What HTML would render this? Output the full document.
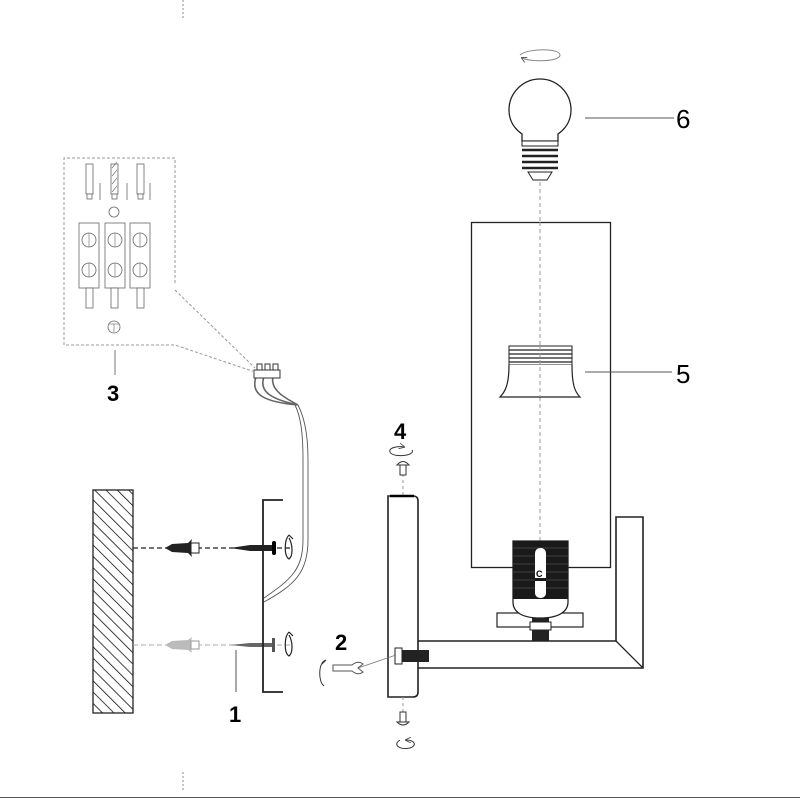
<!DOCTYPE html>
<html><head><meta charset="utf-8"><style>
html,body{margin:0;padding:0;background:#fff;}
svg{display:block;}
text{font-family:"Liberation Sans",sans-serif;}
</style></head><body>
<svg width="800" height="800" viewBox="0 0 800 800" xmlns="http://www.w3.org/2000/svg">
<defs>
<pattern id="hatch" width="8" height="8" patternUnits="userSpaceOnUse" patternTransform="rotate(-45)">
<line x1="0" y1="0" x2="0" y2="8" stroke="#000" stroke-width="1.5"/>
</pattern>
<marker id="ah" markerWidth="6" markerHeight="6" refX="5" refY="3" orient="auto"><path d="M0,0 L6,3 L0,6" fill="none" stroke="#444" stroke-width="0.8"/></marker>
</defs>
<line x1="183" y1="0" x2="183" y2="20" stroke="#888" stroke-dasharray="2,2"/>
<line x1="183" y1="772" x2="183" y2="792" stroke="#888" stroke-dasharray="2,2"/>
<line x1="0" y1="797.5" x2="800" y2="797.5" stroke="#555" stroke-width="1"/>

<!-- bulb -->
<path d="M520,55 C528,48 560,48 560,55 C560,62 530,62 522,58" fill="none" stroke="#888" stroke-width="1" marker-end="url(#ah)"/>
<path d="M522,141 L522,134 C512,127 509,118 509,110 A31,31 0 0 1 571,110 C571,118 568,127 558,134 L558,141 Z" fill="#fff" stroke="#222" stroke-width="1.3"/>
<rect x="522" y="141" width="36" height="5" fill="#fff" stroke="#222"/>
<g stroke="#222" stroke-width="2.4"><line x1="522" y1="150" x2="558" y2="150"/><line x1="522" y1="156" x2="558" y2="156"/><line x1="522" y1="162" x2="558" y2="162"/><line x1="522" y1="168" x2="558" y2="168"/></g>
<path d="M528,172 L552,172 L547,180 L533,180 Z" fill="#fff" stroke="#222"/>
<line x1="585" y1="118" x2="674" y2="118" stroke="#555"/>
<text x="676" y="128" font-size="26">6</text>

<line x1="540" y1="182" x2="540" y2="545" stroke="#999" stroke-dasharray="4,3"/>

<!-- shade -->
<rect x="471.5" y="222.5" width="139" height="345" fill="#fff" stroke="#222" stroke-width="1.3"/>
<line x1="540" y1="222" x2="540" y2="545" stroke="#999" stroke-dasharray="4,3"/>
<rect x="509" y="346" width="63" height="19" fill="#fff" stroke="#222"/>
<g stroke="#222" stroke-width="1.2"><line x1="509" y1="350" x2="572" y2="350"/><line x1="509" y1="354" x2="572" y2="354"/><line x1="509" y1="358" x2="572" y2="358"/><line x1="509" y1="362" x2="572" y2="362"/></g>
<path d="M509,365 C509,385 505,392 500,397 L580,397 C575,392 572,385 572,365" fill="#fff" stroke="#222" stroke-width="1.2"/>
<line x1="540" y1="346" x2="540" y2="397" stroke="#999" stroke-dasharray="4,3"/>
<line x1="585" y1="372" x2="672" y2="372" stroke="#555"/>
<text x="676" y="383" font-size="26">5</text>

<!-- arm -->
<path d="M417,641 L616,641 L616,517 L643,517 L643,668 L417,668 Z" fill="#fff" stroke="#222" stroke-width="1.6"/>
<line x1="616" y1="641" x2="643" y2="668" stroke="#222" stroke-width="1.3"/>

<!-- socket -->
<rect x="497" y="613" width="86" height="14" fill="#fff" stroke="#222" stroke-width="1.2"/>
<rect x="532" y="617" width="17" height="24" fill="#222"/>
<rect x="530" y="622" width="21" height="8" fill="#fff" stroke="#222"/>
<path d="M513,541 L568,541 L568,602 C568,612 558,618 540,618 C522,618 513,612 513,602 Z" fill="#fff" stroke="#222" stroke-width="1.3"/>
<rect x="513" y="541" width="55" height="58" fill="#1a1a1a"/>
<g stroke="#666" stroke-width="0.6"><line x1="513" y1="548" x2="568" y2="548"/><line x1="513" y1="556" x2="568" y2="556"/><line x1="513" y1="564" x2="568" y2="564"/><line x1="513" y1="572" x2="568" y2="572"/><line x1="513" y1="580" x2="568" y2="580"/><line x1="513" y1="588" x2="568" y2="588"/></g>
<rect x="535" y="548" width="11" height="50" rx="5" fill="#fff"/>
<rect x="535" y="578" width="11" height="3" fill="#1a1a1a"/>
<text x="536" y="577" font-size="9" font-weight="bold">C</text>

<!-- back plate -->
<path d="M388,496 L413,496 Q418,496 418,501 L418,692 Q418,697 413,697 L388,697 Z" fill="#fff" stroke="#222" stroke-width="1.6"/>
<line x1="390" y1="496" x2="414" y2="496" stroke="#000" stroke-width="2.5"/>
<line x1="403" y1="474" x2="403" y2="496" stroke="#999" stroke-dasharray="3,3"/>
<line x1="403" y1="697" x2="403" y2="712" stroke="#999" stroke-dasharray="3,3"/>
<rect x="401" y="650" width="28" height="12" fill="#222"/>
<rect x="395" y="648" width="7" height="16" fill="#fff" stroke="#222"/>
<text x="394" y="439" font-size="22" font-weight="bold">4</text>
<path d="M412,450 C416,456 392,458 390,452 C388,447 400,446 404,447" fill="none" stroke="#333" marker-end="url(#ah)"/>
<path d="M397,465 Q403,458 409,465 Z" fill="#fff" stroke="#333"/>
<rect x="400" y="465" width="6" height="10" fill="#fff" stroke="#333"/>
<path d="M397,722 Q403,728 409,722 Z" fill="#fff" stroke="#333"/>
<rect x="400" y="712" width="6" height="10" fill="#fff" stroke="#333"/>
<path d="M400,740 C392,745 400,750 410,748 C418,745 414,740 406,740" fill="none" stroke="#333" marker-end="url(#ah)"/>
<text x="335" y="650" font-size="22" font-weight="bold">2</text>
<line x1="358" y1="668" x2="396" y2="655" stroke="#777" stroke-width="0.8"/>
<path d="M333,665 L352,665 Q358,660 363,664 L358,668 L363,672 Q358,676 352,671 L333,671 Z" fill="#fff" stroke="#555"/>
<path d="M326,660 C318,662 318,682 324,686 M326,660 L322,664" fill="none" stroke="#333"/>

<!-- wall -->
<rect x="93" y="490" width="40" height="223" fill="url(#hatch)" stroke="#222" stroke-width="1.3"/>
<!-- upper axis -->
<line x1="133" y1="548" x2="290" y2="548" stroke="#222" stroke-dasharray="5,3" stroke-width="1.2"/>
<path d="M165,548 L172,544 L188,543 L192,539 L191,544 L199,544 L199,552 L191,552 L192,557 L188,553 L172,552 Z" fill="#222"/>
<rect x="191" y="543" width="8" height="10" fill="#fff" stroke="#222"/>
<path d="M230,548 L250,545 L272,545 L272,551 L250,551 Z" fill="#222"/>
<rect x="272" y="541" width="4" height="14" rx="2" fill="#000"/>
<path d="M289,535 C284,540 284,556 289,559 C293,556 293,545 289,538 M289,535 L293,539" fill="none" stroke="#222" stroke-width="1.2"/>
<!-- lower axis -->
<line x1="133" y1="645" x2="290" y2="645" stroke="#aaa" stroke-dasharray="5,3"/>
<path d="M165,645 L172,641 L188,640 L192,637 L191,641 L199,641 L199,649 L191,649 L192,653 L188,650 L172,649 Z" fill="#bbb"/>
<rect x="191" y="641" width="8" height="8" fill="#fff" stroke="#999"/>
<path d="M230,645 L250,643 L272,643 L272,647 L250,647 Z" fill="#666"/>
<rect x="272" y="638" width="3" height="14" fill="#555"/>
<path d="M289,632 C284,637 284,653 289,656 C293,653 293,642 289,635 M289,632 L293,636" fill="none" stroke="#222" stroke-width="1.2"/>
<line x1="236" y1="650" x2="236" y2="692" stroke="#555"/>
<text x="229" y="722" font-size="22" font-weight="bold">1</text>
<!-- bracket -->
<path d="M283,500 L263,500 L263,692 L283,692" fill="none" stroke="#222" stroke-width="1.8"/>
<!-- wire -->
<path d="M264,598 C290,580 303,570 303,540 L303,460 C303,430 300,415 295,405" fill="none" stroke="#555" stroke-width="0.9"/>
<path d="M264,602 C295,585 308,572 308,540 L308,460 C308,430 303,415 298,405" fill="none" stroke="#555" stroke-width="0.9"/>
<path d="M256,377 C250,395 265,402 298,405 M264,377 C258,393 275,400 298,405 M273,377 C270,390 285,398 298,405" fill="none" stroke="#666" stroke-width="1.6"/>
<rect x="254" y="370" width="26" height="8" fill="#fff" stroke="#333"/>
<rect x="257" y="364" width="5" height="6" fill="#fff" stroke="#333"/>
<rect x="265" y="364" width="5" height="6" fill="#fff" stroke="#333"/>
<rect x="273" y="364" width="5" height="6" fill="#fff" stroke="#333"/>

<!-- inset -->
<path d="M175,283 L175,158 L64,158 L64,345 L175,345 L255,372 M175,290 L255,368" fill="none" stroke="#999" stroke-dasharray="3,2"/>
<line x1="115" y1="350" x2="115" y2="375" stroke="#777"/>
<text x="107" y="401" font-size="22" font-weight="bold">3</text>
<g stroke="#666" fill="#fff" stroke-width="0.8">
<rect x="86" y="164" width="7" height="30"/><rect x="87" y="194" width="5" height="5"/>
<rect x="111" y="164" width="7" height="30"/><rect x="112" y="194" width="5" height="5"/>
<rect x="137" y="164" width="7" height="30"/><rect x="138" y="194" width="5" height="5"/>
<line x1="100" y1="183" x2="100" y2="200"/><line x1="127" y1="183" x2="127" y2="200"/><line x1="150" y1="183" x2="150" y2="200"/>
<circle cx="114" cy="212" r="5"/>
<rect x="79" y="223" width="20" height="65"/><rect x="105" y="223" width="20" height="65"/><rect x="130" y="223" width="20" height="65"/>
<circle cx="89" cy="240" r="7"/><circle cx="89" cy="270" r="7"/>
<circle cx="115" cy="240" r="7"/><circle cx="115" cy="270" r="7"/>
<circle cx="140" cy="240" r="7"/><circle cx="140" cy="270" r="7"/>
<rect x="86" y="288" width="7" height="20"/><rect x="111" y="288" width="7" height="20"/><rect x="137" y="288" width="7" height="20"/>
<circle cx="114" cy="327" r="6"/>
</g>
<g stroke="#666" stroke-width="0.6"><line x1="112" y1="168" x2="117" y2="162"/><line x1="112" y1="176" x2="117" y2="170"/><line x1="112" y1="184" x2="117" y2="178"/><line x1="112" y1="192" x2="117" y2="186"/>
<line x1="89" y1="233" x2="89" y2="247"/><line x1="89" y1="263" x2="89" y2="277"/><line x1="115" y1="233" x2="115" y2="247"/><line x1="115" y1="263" x2="115" y2="277"/><line x1="140" y1="233" x2="140" y2="247"/><line x1="140" y1="263" x2="140" y2="277"/>
<line x1="109" y1="324" x2="119" y2="324"/><line x1="114" y1="324" x2="114" y2="332"/></g>
</svg>
</body></html>
